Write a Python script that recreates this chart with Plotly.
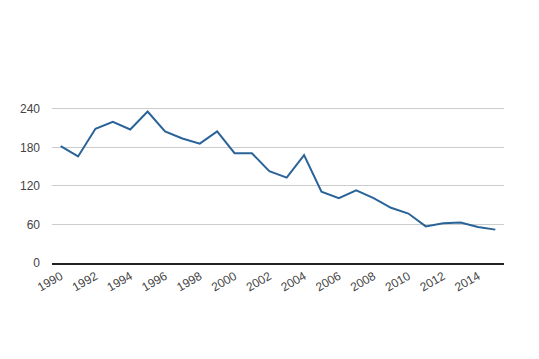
import plotly.graph_objects as go

years = list(range(1990, 2016))
values = [182, 166, 209, 220, 208, 236, 205, 194, 186, 205, 171, 171, 143, 133, 168,
          111, 101, 113, 101, 86, 77, 57, 62, 63, 56, 52]
y_ticks = [0, 60, 120, 180, 240]
x_ticks = list(range(1990, 2016, 2))

fig = go.Figure()
fig.add_trace(go.Scatter(x=years, y=values, mode="lines",
                         line=dict(color="#2a6398", width=2)))

fig.update_layout(
    width=531, height=351,
    margin=dict(l=42, r=35, t=99, b=96),
    paper_bgcolor="white", plot_bgcolor="white",
    showlegend=False,
    font=dict(family="Arial, Liberation Sans, sans-serif", size=12, color="#444"),
    xaxis=dict(range=[1989.5, 2015.5], tickvals=x_ticks, ticktext=[str(t) for t in x_ticks],
               tickangle=-30, showgrid=False, zeroline=False, showline=True,
               linecolor="#222", linewidth=1.5, ticks="", tickfont=dict(size=12, color="#444")),
    yaxis=dict(range=[0, 243], tickvals=y_ticks, showgrid=True, gridcolor="#cccccc",
               zeroline=False, showline=False, ticks="", ticklabelstandoff=11,
               tickfont=dict(size=12, color="#444")),
)

fig.write_html("out.html")
